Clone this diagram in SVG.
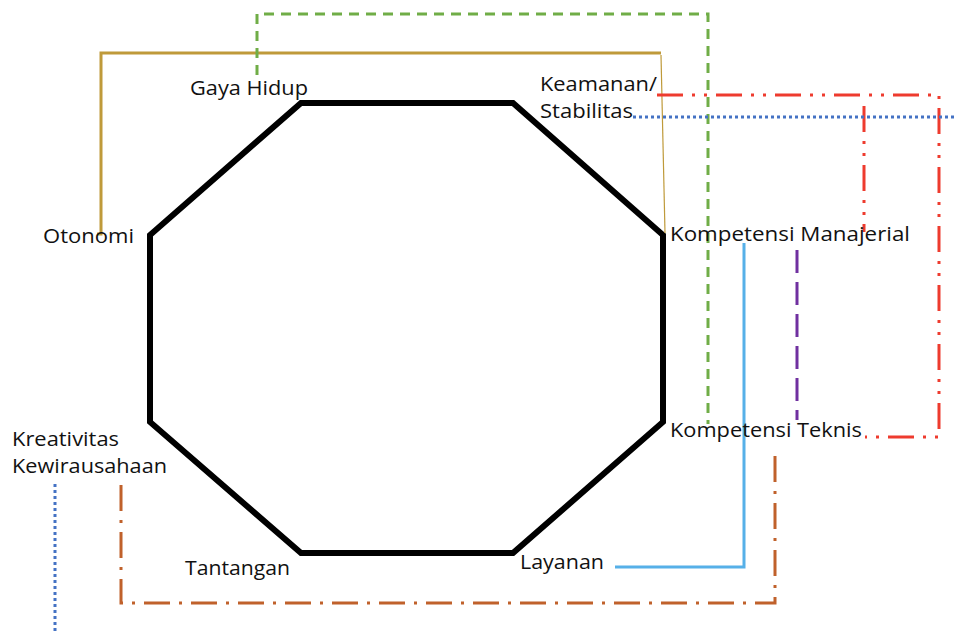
<svg xmlns="http://www.w3.org/2000/svg" width="957" height="632" viewBox="0 0 957 632">
<style>
text{font-family:"Open Sans","Noto Sans",sans-serif;font-size:20.5px;fill:#111}
.c{fill:none;stroke-width:3}
.gold{stroke:#BF9A3A}
.green{stroke:#70AD47;stroke-dasharray:10 7}
.red{stroke:#EE3B2E;stroke-dasharray:26 9 3 9 3 9}
.blue{stroke:#4472C4;stroke-dasharray:3 3}
.lblue{stroke:#56B0E8}
.purple{stroke:#7030A0;stroke-dasharray:23 9}
.orange{stroke:#C0612B;stroke-dasharray:26 9 3 9}
</style>
<rect width="957" height="632" fill="#fff"/>
<g id="octagon"><polygon points="301,103 513,103 663,235 663,422 513,553 301,553 150,422 150,235" fill="none" stroke="#000" stroke-width="6" stroke-linejoin="miter"/></g>
<g id="connectors">
<path class="c gold" d="M97,234 L101,234 L101,53 L661,53"/>
<path class="gold" d="M661,55 L665,233" fill="none" stroke-width="1.2"/>
<path class="c green" d="M257,75 L257,14 L708,14 L708,424"/>
<path class="c red" d="M657,95 L939,95 L939,437 L865,437"/>
<path class="c red" d="M864,106 L864,232"/>
<path class="c blue" d="M633,117 L957,117"/>
<path class="c blue" d="M55,484 L55,632"/>
<path class="c lblue" d="M744,243 L744,567 L615,567"/>
<path class="c purple" d="M797,250 L797,420"/>
<path class="c orange" d="M121,485 L121,603 L775,603 L775,448"/>
</g>
<g id="gaya-hidup"><text x="190" y="95" textLength="118" lengthAdjust="spacingAndGlyphs">Gaya Hidup</text></g>
<g id="keamanan"><text x="540" y="91" textLength="117" lengthAdjust="spacingAndGlyphs">Keamanan/</text><text x="540" y="118" textLength="93" lengthAdjust="spacingAndGlyphs">Stabilitas</text></g>
<g id="otonomi"><text x="43" y="243" textLength="91" lengthAdjust="spacingAndGlyphs">Otonomi</text></g>
<g id="kompetensi-manajerial"><text x="670" y="241" textLength="240" lengthAdjust="spacingAndGlyphs">Kompetensi Manajerial</text></g>
<g id="kompetensi-teknis"><text x="670" y="437" textLength="192" lengthAdjust="spacingAndGlyphs">Kompetensi Teknis</text></g>
<g id="kreativitas"><text x="12" y="446" textLength="107" lengthAdjust="spacingAndGlyphs">Kreativitas</text><text x="12" y="473" textLength="155" lengthAdjust="spacingAndGlyphs">Kewirausahaan</text></g>
<g id="tantangan"><text x="185" y="575" textLength="105" lengthAdjust="spacingAndGlyphs">Tantangan</text></g>
<g id="layanan"><text x="520" y="569" textLength="84" lengthAdjust="spacingAndGlyphs">Layanan</text></g>
</svg>
